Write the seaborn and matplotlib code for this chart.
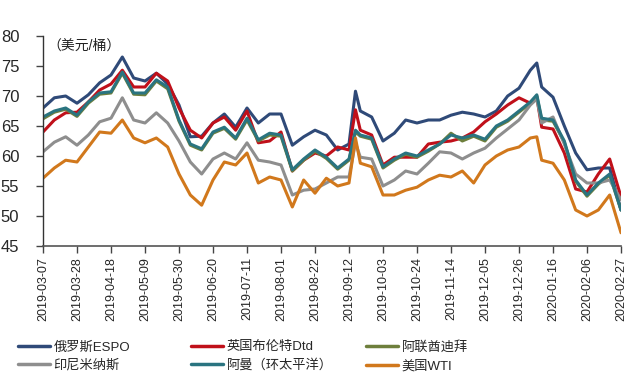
import numpy as np
import pandas as pd
import matplotlib
matplotlib.use("Agg")
import matplotlib.pyplot as plt
import matplotlib.dates as mdates
from matplotlib.lines import Line2D
import seaborn as sns

# ---------------- data ----------------
weekly = list(pd.date_range("2019-03-07", "2020-02-27", freq="7D"))
extra = [pd.Timestamp("2019-09-16"), pd.Timestamp("2020-01-06")]
dates = sorted(weekly + extra)

espo = [68.0, 69.7, 70.0, 68.8, 70.2, 72.2, 73.5, 76.5, 73.0, 72.5, 73.8, 72.0,
        68.5, 63.2, 63.3, 65.5, 67.0, 64.8, 68.0, 65.5, 67.0, 67.0, 61.8, 63.2,
        64.3, 63.5, 61.0, 62.0, 70.8, 67.5, 66.5, 62.5, 63.8, 66.0, 65.5, 66.0,
        66.0, 66.8, 67.3, 67.0, 66.5, 67.5, 70.0, 71.3, 74.3, 75.5, 71.5, 69.8,
        65.0, 60.5, 57.7, 58.0, 58.0, 51.0]
brent = [64.0, 66.0, 67.2, 67.3, 69.0, 71.0, 72.0, 74.3, 71.5, 71.5, 73.8, 72.5,
         68.0, 64.3, 63.0, 65.5, 66.5, 64.3, 67.5, 62.2, 62.5, 64.0, 57.5, 59.3,
         60.5, 60.0, 61.5, 61.0, 67.7, 64.3, 63.5, 58.5, 59.8, 59.8, 59.8, 62.0,
         62.3, 62.5, 63.0, 64.0, 65.7, 67.0, 68.5, 69.7, 68.8, 69.8, 64.8, 64.5,
         60.5, 54.5, 54.0, 57.0, 59.5, 53.2]
dubai = [66.2, 67.3, 67.8, 66.6, 68.8, 70.3, 70.5, 73.8, 70.3, 70.2, 72.5, 71.2,
         65.8, 61.8, 61.0, 63.8, 64.6, 62.8, 66.0, 62.5, 63.5, 63.3, 57.5, 59.3,
         60.8, 59.6, 57.8, 59.3, 64.0, 63.3, 62.8, 58.0, 59.3, 60.3, 59.8, 60.8,
         62.0, 63.8, 62.5, 63.3, 62.5, 64.8, 65.8, 67.3, 68.8, 70.0, 66.0, 65.8,
         62.3, 55.8, 53.3, 55.3, 56.8, 51.0]
minas = [60.7, 62.3, 63.2, 61.8, 63.5, 65.7, 66.3, 69.7, 66.0, 65.5, 67.2, 65.5,
         62.5, 59.0, 57.0, 59.5, 60.5, 59.5, 62.2, 59.3, 59.0, 58.5, 53.5, 54.3,
         54.5, 55.5, 56.5, 56.5, 62.2, 59.8, 59.5, 55.0, 56.0, 57.5, 57.0, 58.8,
         60.7, 60.5, 59.5, 60.5, 61.3, 63.0, 64.5, 66.0, 68.5, 69.5, 65.5, 66.5,
         62.0, 57.0, 55.5, 55.5, 56.0, 52.7]
oman = [66.5, 67.5, 68.0, 66.8, 69.0, 70.5, 70.7, 74.0, 70.5, 70.5, 72.7, 71.5,
        66.0, 62.0, 61.2, 64.0, 64.8, 63.0, 66.3, 62.7, 63.8, 63.5, 57.7, 59.5,
        61.0, 59.8, 58.0, 59.5, 64.3, 63.5, 63.0, 58.2, 59.5, 60.5, 60.0, 61.0,
        62.0, 63.5, 63.0, 63.5, 62.8, 65.0, 66.0, 67.5, 69.0, 70.2, 66.3, 66.0,
        62.5, 56.0, 53.5, 55.5, 57.0, 51.0]
wti = [56.3, 58.0, 59.3, 59.0, 61.5, 64.0, 63.8, 66.0, 63.0, 62.2, 63.0, 61.5,
       57.0, 53.5, 51.8, 56.0, 59.0, 58.5, 60.5, 55.5, 56.5, 56.0, 51.5, 56.0,
       53.8, 56.3, 55.0, 55.5, 63.0, 58.8, 58.2, 53.5, 53.5, 54.3, 54.8, 56.0,
       56.8, 56.5, 57.5, 55.5, 58.5, 60.0, 61.0, 61.5, 63.0, 63.2, 59.3, 58.8,
       56.0, 51.0, 50.0, 51.0, 53.5, 47.2]

series_names = ["俄罗斯ESPO", "英国布伦特Dtd", "阿联酋迪拜", "印尼米纳斯", "阿曼（环太平洋）", "美国WTI"]
series_values = [espo, brent, dubai, minas, oman, wti]
colors = ["#2F4A78", "#C0101A", "#6E7F3C", "#8E8E8E", "#2A7480", "#D1781C"]

tick_dates = pd.date_range("2019-03-07", "2020-02-27", freq="21D")
tick_labels = [d.strftime("%Y-%m-%d") for d in tick_dates]
y_ticks = [45, 50, 55, 60, 65, 70, 75, 80]
unit_label = "（美元/桶）"

# ---------------- build frame ----------------
frames = []
for name, vals in zip(series_names, series_values):
    frames.append(pd.DataFrame({"date": dates, "price": vals, "series": name}))
df = pd.concat(frames, ignore_index=True)

sns.set_style("white")
plt.rcParams["font.family"] = ["Liberation Sans", "Noto Sans CJK SC", "DejaVu Sans"]

fig = plt.figure(figsize=(6.4, 3.83), dpi=100)
ax = fig.add_axes([43 / 640, 1 - 246 / 383, (621 - 43) / 640, (246 - 36) / 383])

sns.lineplot(data=df, x="date", y="price", hue="series", hue_order=series_names,
             palette=colors, linewidth=2.2, ax=ax, legend=False)

ax.set_xlim(tick_dates[0], tick_dates[-1])
ax.set_ylim(45, 80)
ax.set_yticks(y_ticks)
ax.set_yticklabels([str(v) for v in y_ticks], fontsize=12)
ax.set_xticks(tick_dates)
ax.set_xticklabels(tick_labels, rotation=90, fontsize=9)
ax.set_xlabel("")
ax.set_ylabel("")
ax.grid(False)

for s in ["top", "right"]:
    ax.spines[s].set_visible(False)
ax.spines["left"].set_color("#333333")
ax.spines["bottom"].set_color("#555555")
ax.spines["left"].set_linewidth(1.0)
ax.spines["bottom"].set_linewidth(1.2)
ax.tick_params(axis="both", which="major", direction="out", length=5, width=1,
               color="#444444", bottom=True, left=True, pad=3)
ax.tick_params(axis="y", pad=12)

ax.text(0.008, 0.985, unit_label, transform=ax.transAxes, fontsize=10,
        va="top", ha="left", color="#222222")

# ---------------- legends (three columns) ----------------
handles = [Line2D([], [], color=c, linewidth=2.5) for c in colors]
col_x = [18 / 640, 191 / 640, 366 / 640]
col_items = [(0, 3), (1, 4), (2, 5)]
for cx, (i, j) in zip(col_x, col_items):
    leg = fig.legend([handles[i], handles[j]], [series_names[i], series_names[j]],
                     loc="upper left", bbox_to_anchor=(cx, 1 - 341 / 383),
                     frameon=False, fontsize=9.5, handlelength=2.4,
                     handletextpad=0.3, labelspacing=0.45, borderaxespad=0,
                     borderpad=0)

fig.savefig("out.png", dpi=100)
